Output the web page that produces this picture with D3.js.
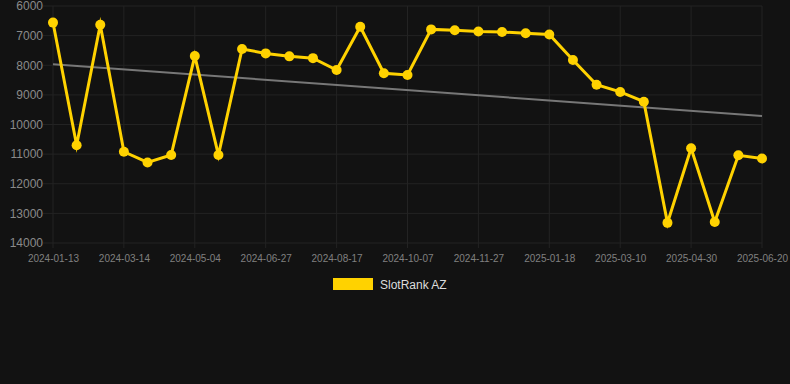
<!DOCTYPE html>
<html>
<head>
<meta charset="utf-8">
<script src="https://cdn.jsdelivr.net/npm/d3@7"></script>
<style>
  html, body { margin: 0; padding: 0; background: #121212; }
  svg { display: block; font-family: "Liberation Sans", Arial, sans-serif; }
</style>
</head>
<body>
<div id="chart"></div>
<script>
// data
const dates = [
  '2024-01-13', '2024-02-03', '2024-02-23', '2024-03-14', '2024-03-31', '2024-04-17',
  '2024-05-04', '2024-05-22', '2024-06-09', '2024-06-27', '2024-07-14', '2024-07-31',
  '2024-08-17', '2024-09-03', '2024-09-20', '2024-10-07', '2024-10-24', '2024-11-10',
  '2024-11-27', '2024-12-14', '2024-12-31', '2025-01-18', '2025-02-04', '2025-02-21',
  '2025-03-10', '2025-03-27', '2025-04-13', '2025-04-30', '2025-05-17', '2025-06-03',
  '2025-06-20'
];
const ranks = [
  6560, 10700, 6630, 10920, 11280, 11030,
  7690, 11030, 7450, 7600, 7700, 7760,
  8160, 6700, 8270, 8330, 6790, 6820,
  6860, 6880, 6920, 6960, 7820, 8660,
  8900, 9230, 13320, 10800, 13290, 11040,
  11150
];
const trend = [7970, 9710];          // trend line at first and last date
const yTicks = [6000, 7000, 8000, 9000, 10000, 11000, 12000, 13000, 14000];
const seriesName = 'SlotRank AZ';

const W = 790, H = 384;
const margin = {top: 6, right: 28, bottom: 141, left: 53};
const width = W - margin.left - margin.right;
const height = H - margin.top - margin.bottom;

const svg = d3.select('#chart').append('svg')
  .attr('width', W).attr('height', H);

svg.append('rect').attr('width', W).attr('height', H).attr('fill', '#121212');

const g = svg.append('g')
  .attr('transform', 'translate(' + margin.left + ',' + margin.top + ')');

// scales
const xScale = d3.scalePoint().domain(dates).range([0, width]);
const yScale = d3.scaleLinear().domain([6000, 14000]).range([0, height]);

const labelDates = dates.filter((d, i) => i % 3 === 0);

// grid
g.append('g').selectAll('line').data(yTicks).join('line')
  .attr('x1', -10).attr('x2', width)
  .attr('y1', d => yScale(d)).attr('y2', d => yScale(d))
  .attr('stroke', '#232323').attr('stroke-width', 1);

g.append('g').selectAll('line').data(labelDates).join('line')
  .attr('x1', d => xScale(d)).attr('x2', d => xScale(d))
  .attr('y1', 0).attr('y2', height + 5)
  .attr('stroke', '#232323').attr('stroke-width', 1);

// axes
const yAxis = d3.axisLeft(yScale).tickValues(yTicks).tickFormat(d3.format('d'))
  .tickSize(0).tickPadding(10);
g.append('g').attr('class', 'y-axis').call(yAxis)
  .call(a => a.select('.domain').remove())
  .selectAll('text')
  .attr('fill', '#8a8a8a').attr('font-size', 12)
  .attr('font-family', '"Liberation Sans", Arial, sans-serif');

const xAxis = d3.axisBottom(xScale).tickValues(labelDates).tickSize(0).tickPadding(12);
g.append('g').attr('class', 'x-axis')
  .attr('transform', 'translate(0,' + height + ')')
  .call(xAxis)
  .call(a => a.select('.domain').remove())
  .selectAll('text')
  .attr('fill', '#808080').attr('font-size', 10)
  .attr('font-family', '"Liberation Sans", Arial, sans-serif');

// trend line
g.append('line')
  .attr('x1', xScale(dates[0])).attr('y1', yScale(trend[0]))
  .attr('x2', xScale(dates[dates.length - 1])).attr('y2', yScale(trend[1]))
  .attr('stroke', '#777').attr('stroke-width', 2);

// series line
const data = dates.map((d, i) => ({date: d, value: ranks[i]}));
const line = d3.line().x(d => xScale(d.date)).y(d => yScale(d.value));

g.append('path').datum(data)
  .attr('d', line)
  .attr('fill', 'none')
  .attr('stroke', '#ffd200')
  .attr('stroke-width', 3)
  .attr('stroke-linejoin', 'miter')
  .attr('stroke-miterlimit', 10);

g.append('g').selectAll('circle').data(data).join('circle')
  .attr('cx', d => xScale(d.date)).attr('cy', d => yScale(d.value))
  .attr('r', 5).attr('fill', '#ffd200');

// legend
const legend = svg.append('g').attr('transform', 'translate(333,278)');
legend.append('rect').attr('width', 40).attr('height', 12).attr('fill', '#ffd200');
legend.append('text').attr('x', 47).attr('y', 10.5)
  .attr('fill', '#dddddd').attr('font-size', 12)
  .text(seriesName);
</script>
</body>
</html>
